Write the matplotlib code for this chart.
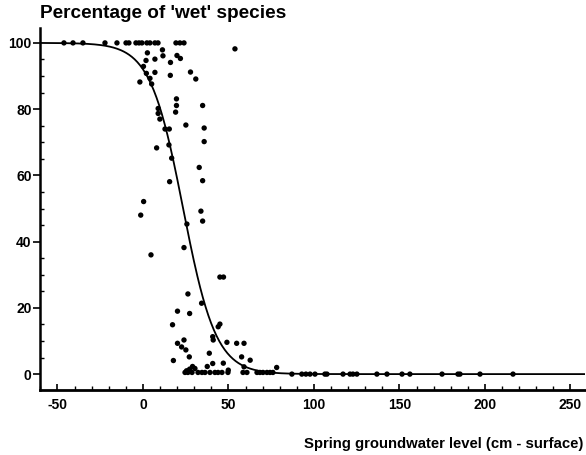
import numpy as np
import matplotlib.pyplot as plt

plt.rcParams['font.family'] = ['Liberation Sans', 'DejaVu Sans']
plt.rcParams['font.weight'] = 'bold'
plt.rcParams['axes.unicode_minus'] = False

# sites where all recorded species are 'wet' species
full_x = [-46.2, -40.9, -35.1, -22.2, -15.2, -9.9, -8.2, -4.1, -2.3, -0.6,
          2.3, 4.1, 7.0, 8.8, 19.3, 21.6, 24.0]
full_y = [100] * len(full_x)

# mixed sites
mixed_x = [53.8, 2.6, 11.4, 11.7, 7.0, 1.8, 16.1, 19.9, 21.9, 27.8,
           30.9, 7.0, 16.0, -1.8, 0.3, 2.0, 4.1, 5.1, 19.6, 19.6,
           19.1, 34.9, 25.1, 35.8, 35.8, 8.9, 8.9, 9.9, 12.9, 15.4,
           8.0, 15.2, 16.8, 32.9, 34.9, 15.6, 0.4, -1.3, 33.9, 34.9,
           25.7, 24.0, 4.7, 26.3, 45.0, 47.1, 34.3, 20.2, 27.3, 17.3,
           45.0, 44.0, 40.8, 41.1, 49.1, 54.8, 59.1, 24.0, 20.2, 22.6,
           25.1, 38.8, 27.1, 17.8, 57.7, 62.7, 47.0, 40.8, 37.6, 30.4,
           25.5, 27.3, 29.0, 49.9, 59.1, 78.2]
mixed_y = [98.2, 97.0, 97.9, 96.1, 95.1, 94.7, 94.1, 96.2, 95.3, 91.2,
           89.1, 91.1, 90.2, 88.2, 92.9, 90.8, 89.3, 87.6, 83.1, 81.1,
           79.1, 81.1, 75.2, 74.3, 70.2, 80.2, 78.7, 77.0, 74.0, 74.0,
           68.3, 69.2, 65.2, 62.4, 58.4, 58.1, 52.1, 48.0, 49.2, 46.2,
           45.3, 38.2, 36.0, 24.2, 29.3, 29.3, 21.4, 19.0, 18.3, 14.9,
           15.1, 14.3, 11.3, 10.3, 9.6, 9.3, 9.3, 10.3, 9.3, 8.2,
           7.3, 6.3, 5.2, 4.1, 5.2, 4.2, 3.3, 3.2, 2.3, 1.7,
           1.0, 1.5, 2.3, 1.2, 2.2, 2.0]

# sites without 'wet' species
none_x = [24.6, 26.3, 28.7, 32.2, 34.5, 36.3, 39.2, 42.1, 43.9, 46.2,
          49.7, 58.5, 60.8, 66.7, 68.4, 70.2, 72.5, 74.3, 76.0, 87.1,
          92.9, 95.3, 97.7, 100.6, 106.4, 107.6, 117.0, 121.1, 122.8, 125.1,
          136.8, 142.7, 151.5, 156.1, 174.9, 184.2, 185.4, 197.1, 216.4]
none_y = [0.5 if x < 80 else 0 for x in none_x]

# logistic fit: midpoint and slope (cm)
x_half = 23.5
slope = 9.6

fig = plt.figure(figsize=(5.86, 4.55), dpi=100)
ax = fig.add_axes([40/586, 65/455, 545/586, 362/455])

gx = np.linspace(-60.2, 258.5, 600)
gy = 100 / (1 + np.exp((gx - x_half) / slope))
ax.plot(gx, gy, color='black', lw=1.3, zorder=2)

px = full_x + mixed_x + none_x
py = full_y + mixed_y + none_y
ax.scatter(px, py, s=15, color='black', edgecolors='none', zorder=3)

ax.set_xlim(-60.2, 258.5)
ax.set_ylim(-4.8, 104.5)
ax.spines['top'].set_visible(False)
ax.spines['right'].set_visible(False)
ax.spines['left'].set_linewidth(1.8)
ax.spines['bottom'].set_linewidth(2.0)

ax.set_xticks([-50, 0, 50, 100, 150, 200, 250])
ax.set_xticks(np.arange(-60, 260, 10), minor=True)
ax.set_yticks([0, 20, 40, 60, 80, 100])
ax.set_yticks(np.arange(0, 101, 5), minor=True)
ax.tick_params(axis='x', which='major', direction='in', length=4.5, width=1.2,
               pad=6, labelsize=10)
ax.tick_params(axis='x', which='minor', direction='in', length=3, width=1.0)
ax.tick_params(axis='y', which='major', direction='out', length=5, width=1.2,
               pad=1, labelsize=10)
ax.tick_params(axis='y', which='minor', direction='in', length=3, width=1.0)

fig.text(40/586, 1 - 18/455, "Percentage of 'wet' species", fontsize=13.7,
         ha='left', va='baseline')
fig.text(583/586, 1 - 448/455, 'Spring groundwater level (cm - surface)',
         fontsize=10.7, ha='right', va='baseline')

fig.savefig('out.png', dpi=100)
